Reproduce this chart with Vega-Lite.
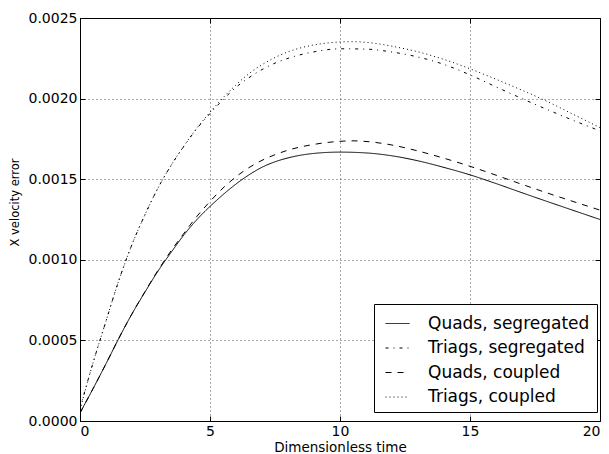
{
  "$schema": "https://vega.github.io/schema/vega-lite/v6.json",
  "width": 520,
  "height": 403,
  "autosize": {"type": "none"},
  "padding": {"left": 80, "top": 18, "right": 9, "bottom": 33},
  "background": "white",
  "config": {
    "font": "DejaVu Sans",
    "view": {"stroke": "black", "strokeWidth": 1},
    "axis": {
      "labelFont": "DejaVu Sans",
      "titleFont": "DejaVu Sans",
      "labelColor": "black",
      "titleColor": "black",
      "titleFontWeight": "normal",
      "domain": false,
      "tickColor": "black",
      "tickWidth": 1,
      "gridColor": "black",
      "gridDash": [1, 3],
      "gridWidth": 0.8,
      "gridOpacity": 0.85
    }
  },
  "datasets": {
    "curves": [
      {"t": 0, "err": 0.00005, "series": "Quads, segregated"},
      {"t": 0.5, "err": 0.0002, "series": "Quads, segregated"},
      {"t": 1, "err": 0.000355, "series": "Quads, segregated"},
      {"t": 1.5, "err": 0.000515, "series": "Quads, segregated"},
      {"t": 2, "err": 0.000665, "series": "Quads, segregated"},
      {"t": 2.5, "err": 0.0008, "series": "Quads, segregated"},
      {"t": 3, "err": 0.00093, "series": "Quads, segregated"},
      {"t": 3.5, "err": 0.001045, "series": "Quads, segregated"},
      {"t": 4, "err": 0.001155, "series": "Quads, segregated"},
      {"t": 4.5, "err": 0.00125, "series": "Quads, segregated"},
      {"t": 5, "err": 0.001331, "series": "Quads, segregated"},
      {"t": 5.5, "err": 0.001404, "series": "Quads, segregated"},
      {"t": 6, "err": 0.00147, "series": "Quads, segregated"},
      {"t": 6.5, "err": 0.001527, "series": "Quads, segregated"},
      {"t": 7, "err": 0.001574, "series": "Quads, segregated"},
      {"t": 7.5, "err": 0.001608, "series": "Quads, segregated"},
      {"t": 8, "err": 0.001632, "series": "Quads, segregated"},
      {"t": 9, "err": 0.00166, "series": "Quads, segregated"},
      {"t": 10, "err": 0.001668, "series": "Quads, segregated"},
      {"t": 11, "err": 0.001663, "series": "Quads, segregated"},
      {"t": 12, "err": 0.001645, "series": "Quads, segregated"},
      {"t": 13, "err": 0.001614, "series": "Quads, segregated"},
      {"t": 14, "err": 0.001573, "series": "Quads, segregated"},
      {"t": 15, "err": 0.001527, "series": "Quads, segregated"},
      {"t": 16, "err": 0.001473, "series": "Quads, segregated"},
      {"t": 17, "err": 0.001416, "series": "Quads, segregated"},
      {"t": 18, "err": 0.00136, "series": "Quads, segregated"},
      {"t": 19, "err": 0.001305, "series": "Quads, segregated"},
      {"t": 20, "err": 0.00125, "series": "Quads, segregated"},

      {"t": 0, "err": 0.00008, "series": "Triags, segregated"},
      {"t": 0.5, "err": 0.00036, "series": "Triags, segregated"},
      {"t": 1, "err": 0.00062, "series": "Triags, segregated"},
      {"t": 1.5, "err": 0.000875, "series": "Triags, segregated"},
      {"t": 2, "err": 0.001095, "series": "Triags, segregated"},
      {"t": 2.5, "err": 0.00128, "series": "Triags, segregated"},
      {"t": 3, "err": 0.001445, "series": "Triags, segregated"},
      {"t": 3.5, "err": 0.001585, "series": "Triags, segregated"},
      {"t": 4, "err": 0.001705, "series": "Triags, segregated"},
      {"t": 4.5, "err": 0.001815, "series": "Triags, segregated"},
      {"t": 5, "err": 0.001907, "series": "Triags, segregated"},
      {"t": 5.5, "err": 0.001993, "series": "Triags, segregated"},
      {"t": 6, "err": 0.00207, "series": "Triags, segregated"},
      {"t": 6.5, "err": 0.00213, "series": "Triags, segregated"},
      {"t": 7, "err": 0.00218, "series": "Triags, segregated"},
      {"t": 7.5, "err": 0.00222, "series": "Triags, segregated"},
      {"t": 8, "err": 0.00225, "series": "Triags, segregated"},
      {"t": 9, "err": 0.00229, "series": "Triags, segregated"},
      {"t": 10, "err": 0.002309, "series": "Triags, segregated"},
      {"t": 11, "err": 0.002307, "series": "Triags, segregated"},
      {"t": 12, "err": 0.002289, "series": "Triags, segregated"},
      {"t": 13, "err": 0.002258, "series": "Triags, segregated"},
      {"t": 14, "err": 0.002212, "series": "Triags, segregated"},
      {"t": 15, "err": 0.002147, "series": "Triags, segregated"},
      {"t": 16, "err": 0.002073, "series": "Triags, segregated"},
      {"t": 17, "err": 0.002, "series": "Triags, segregated"},
      {"t": 18, "err": 0.00193, "series": "Triags, segregated"},
      {"t": 19, "err": 0.001863, "series": "Triags, segregated"},
      {"t": 20, "err": 0.0018, "series": "Triags, segregated"},

      {"t": 0, "err": 0.00005, "series": "Quads, coupled"},
      {"t": 0.5, "err": 0.0002, "series": "Quads, coupled"},
      {"t": 1, "err": 0.000355, "series": "Quads, coupled"},
      {"t": 1.5, "err": 0.000515, "series": "Quads, coupled"},
      {"t": 2, "err": 0.000665, "series": "Quads, coupled"},
      {"t": 2.5, "err": 0.000803, "series": "Quads, coupled"},
      {"t": 3, "err": 0.000935, "series": "Quads, coupled"},
      {"t": 3.5, "err": 0.001055, "series": "Quads, coupled"},
      {"t": 4, "err": 0.001165, "series": "Quads, coupled"},
      {"t": 4.5, "err": 0.00127, "series": "Quads, coupled"},
      {"t": 5, "err": 0.001362, "series": "Quads, coupled"},
      {"t": 5.5, "err": 0.001445, "series": "Quads, coupled"},
      {"t": 6, "err": 0.001515, "series": "Quads, coupled"},
      {"t": 6.5, "err": 0.001572, "series": "Quads, coupled"},
      {"t": 7, "err": 0.001617, "series": "Quads, coupled"},
      {"t": 7.5, "err": 0.001652, "series": "Quads, coupled"},
      {"t": 8, "err": 0.00168, "series": "Quads, coupled"},
      {"t": 9, "err": 0.001716, "series": "Quads, coupled"},
      {"t": 10, "err": 0.001735, "series": "Quads, coupled"},
      {"t": 10.5, "err": 0.001738, "series": "Quads, coupled"},
      {"t": 11, "err": 0.001734, "series": "Quads, coupled"},
      {"t": 12, "err": 0.001712, "series": "Quads, coupled"},
      {"t": 13, "err": 0.001675, "series": "Quads, coupled"},
      {"t": 14, "err": 0.00163, "series": "Quads, coupled"},
      {"t": 15, "err": 0.00158, "series": "Quads, coupled"},
      {"t": 16, "err": 0.001525, "series": "Quads, coupled"},
      {"t": 17, "err": 0.001468, "series": "Quads, coupled"},
      {"t": 18, "err": 0.001413, "series": "Quads, coupled"},
      {"t": 19, "err": 0.00136, "series": "Quads, coupled"},
      {"t": 20, "err": 0.001308, "series": "Quads, coupled"},

      {"t": 0, "err": 0.00007, "series": "Triags, coupled"},
      {"t": 0.5, "err": 0.00036, "series": "Triags, coupled"},
      {"t": 1, "err": 0.00062, "series": "Triags, coupled"},
      {"t": 1.5, "err": 0.000875, "series": "Triags, coupled"},
      {"t": 2, "err": 0.001095, "series": "Triags, coupled"},
      {"t": 2.5, "err": 0.00128, "series": "Triags, coupled"},
      {"t": 3, "err": 0.001445, "series": "Triags, coupled"},
      {"t": 3.5, "err": 0.001585, "series": "Triags, coupled"},
      {"t": 4, "err": 0.001707, "series": "Triags, coupled"},
      {"t": 4.5, "err": 0.001818, "series": "Triags, coupled"},
      {"t": 5, "err": 0.001915, "series": "Triags, coupled"},
      {"t": 5.5, "err": 0.002005, "series": "Triags, coupled"},
      {"t": 6, "err": 0.002085, "series": "Triags, coupled"},
      {"t": 6.5, "err": 0.002155, "series": "Triags, coupled"},
      {"t": 7, "err": 0.00221, "series": "Triags, coupled"},
      {"t": 7.5, "err": 0.002255, "series": "Triags, coupled"},
      {"t": 8, "err": 0.00229, "series": "Triags, coupled"},
      {"t": 9, "err": 0.002333, "series": "Triags, coupled"},
      {"t": 10, "err": 0.002351, "series": "Triags, coupled"},
      {"t": 10.5, "err": 0.002353, "series": "Triags, coupled"},
      {"t": 11, "err": 0.002349, "series": "Triags, coupled"},
      {"t": 12, "err": 0.002325, "series": "Triags, coupled"},
      {"t": 13, "err": 0.00229, "series": "Triags, coupled"},
      {"t": 14, "err": 0.002243, "series": "Triags, coupled"},
      {"t": 15, "err": 0.002185, "series": "Triags, coupled"},
      {"t": 16, "err": 0.00212, "series": "Triags, coupled"},
      {"t": 17, "err": 0.002052, "series": "Triags, coupled"},
      {"t": 18, "err": 0.00198, "series": "Triags, coupled"},
      {"t": 19, "err": 0.0019, "series": "Triags, coupled"},
      {"t": 20, "err": 0.00182, "series": "Triags, coupled"}
    ]
  },
  "data": {"name": "curves"},
  "resolve": {"axis": {"x": "independent", "y": "independent"}},
  "layer": [
    {
      "mark": {"type": "line", "color": "black", "strokeWidth": 1, "interpolate": "monotone", "clip": true},
      "encoding": {
        "x": {
          "field": "t", "type": "quantitative",
          "scale": {"domain": [0, 20], "nice": false, "zero": false},
          "axis": {
            "orient": "bottom", "values": [0, 5, 10, 15, 20], "format": "d",
            "labelFontSize": 14, "tickSize": -5, "labelPadding": 8,
            "title": "Dimensionless time", "titleFontSize": 13.5,
            "titleY": 30, "titleBaseline": "alphabetic"
          }
        },
        "y": {
          "field": "err", "type": "quantitative",
          "scale": {"domain": [0, 0.0025], "nice": false, "zero": false},
          "axis": {
            "orient": "left", "values": [0, 0.0005, 0.001, 0.0015, 0.002, 0.0025], "format": ".4f",
            "labelFontSize": 14, "tickSize": -5, "labelPadding": 8,
            "title": "X velocity error", "titleFontSize": 11.5,
            "titleX": -62, "titleY": 184, "titleAngle": 270, "titleAlign": "center", "titleBaseline": "alphabetic"
          }
        },
        "strokeDash": {
          "field": "series", "type": "nominal",
          "scale": {
            "domain": ["Quads, segregated", "Triags, segregated", "Quads, coupled", "Triags, coupled"],
            "range": [[1, 0], [3, 5, 1, 5], [6, 6], [1, 3]]
          },
          "legend": {
            "title": null,
            "orient": "none",
            "legendX": 294,
            "legendY": 286,
            "direction": "vertical",
            "strokeColor": "black",
            "fillColor": "white",
            "cornerRadius": 0,
            "padding": 7,
            "symbolType": "stroke",
            "symbolSize": 576,
            "symbolStrokeColor": "black",
            "symbolStrokeWidth": 1,
            "symbolOffset": 4,
            "labelOffset": 18,
            "labelFont": "DejaVu Sans",
            "labelFontSize": 17,
            "labelColor": "black",
            "rowPadding": 3.5,
            "labelLimit": 400
          }
        }
      }
    },
    {
      "mark": {"type": "point", "opacity": 0},
      "encoding": {
        "x": {
          "field": "t", "type": "quantitative",
          "axis": {"orient": "top", "values": [0, 5, 10, 15, 20], "labels": false, "grid": false, "tickSize": -5, "title": null}
        },
        "y": {
          "field": "err", "type": "quantitative",
          "axis": {"orient": "right", "values": [0, 0.0005, 0.001, 0.0015, 0.002, 0.0025], "labels": false, "grid": false, "tickSize": -5, "title": null}
        }
      }
    }
  ]
}
